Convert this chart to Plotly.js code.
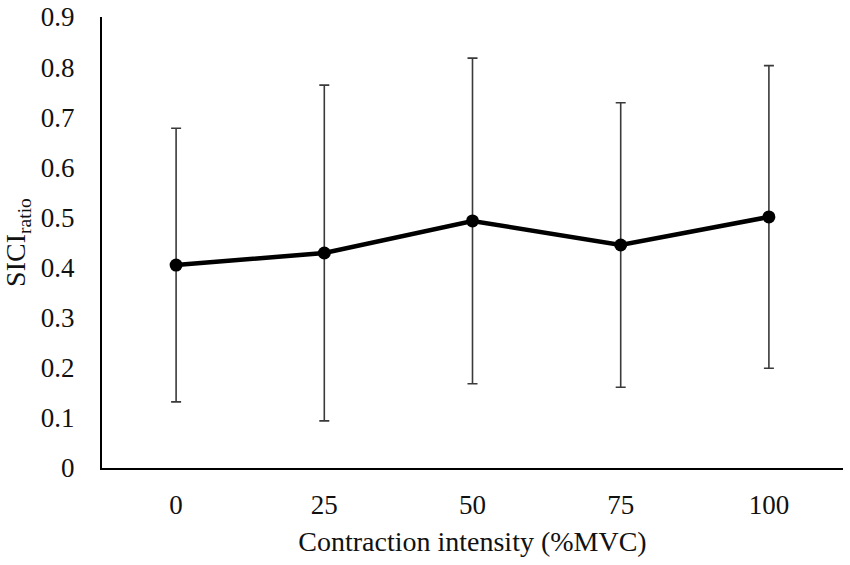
<!DOCTYPE html>
<html>
<head>
<meta charset="utf-8">
<script src="https://cdn.plot.ly/plotly-3.0.1.min.js"></script>
<style>
  html, body { margin: 0; padding: 0; background: #fff; }
  #chart { width: 850px; height: 565px; }
</style>
</head>
<body>
<div id="chart"></div>
<script>
// Contraction intensity levels (%MVC)
const intensities = ['0', '25', '50', '75', '100'];
// Mean SICI ratio at each intensity
const siciMean = [0.405, 0.429, 0.493, 0.445, 0.501];
// Error bar half-lengths (SD)
const siciSD = [0.273, 0.335, 0.325, 0.284, 0.302];
const yTicks = [0, 0.1, 0.2, 0.3, 0.4, 0.5, 0.6, 0.7, 0.8, 0.9];
const yTickText = ['0', '0.1', '0.2', '0.3', '0.4', '0.5', '0.6', '0.7', '0.8', '0.9'];

const fontFamily = '"Liberation Serif", "Times New Roman", serif';

const trace = {
    x: intensities,
    y: siciMean,
    type: 'scatter',
    mode: 'lines+markers',
    line: { color: '#000', width: 4.5 },
    marker: { color: '#000', size: 13 },
    error_y: {
        type: 'data',
        array: siciSD,
        visible: true,
        color: '#3a3a3a',
        thickness: 1.6,
        width: 5
    },
    hoverinfo: 'skip'
};

const layout = {
    width: 850,
    height: 565,
    margin: { t: 17, r: 7, b: 97, l: 102 },
    paper_bgcolor: '#fff',
    plot_bgcolor: '#fff',
    showlegend: false,
    font: { family: fontFamily, size: 27, color: '#111' },
    xaxis: {
        type: 'category',
        range: [-0.5, 4.5],
        showgrid: false,
        zeroline: false,
        showline: true,
        linecolor: '#000',
        linewidth: 2,
        ticks: '',
        ticklabelstandoff: 12,
        title: { text: 'Contraction intensity (%MVC)', standoff: 12, font: { size: 28 } },
        automargin: false
    },
    yaxis: {
        range: [0, 0.9],
        tickvals: yTicks,
        ticktext: yTickText,
        showgrid: false,
        zeroline: false,
        showline: true,
        linecolor: '#000',
        linewidth: 2,
        ticks: '',
        ticklabelstandoff: 20,
        title: { text: 'SICI<sub>ratio</sub>', standoff: 8, font: { size: 28 } },
        automargin: false
    }
};

Plotly.newPlot('chart', [trace], layout, { displayModeBar: false, staticPlot: true });
</script>
</body>
</html>
